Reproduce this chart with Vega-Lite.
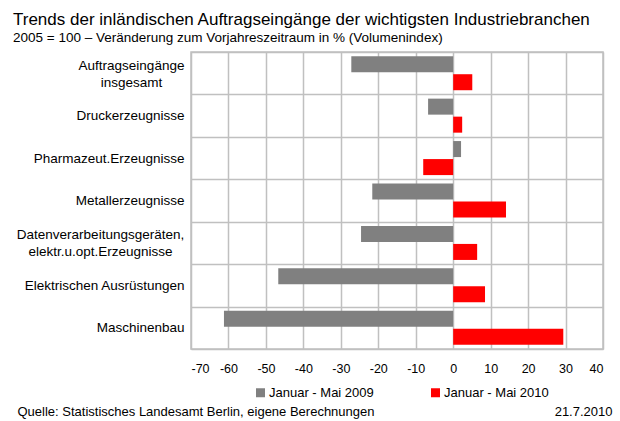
{
  "$schema": "https://vega.github.io/schema/vega-lite/v6.json",
  "width": 412,
  "height": 297,
  "autosize": {"type": "none"},
  "padding": {"left": 191, "top": 52, "right": 17, "bottom": 72},
  "background": "white",
  "config": {
    "font": "Liberation Sans",
    "view": {"stroke": "#c0c0c0", "strokeWidth": 1.5}
  },
  "title": {
    "text": "Trends der inländischen Auftragseingänge der wichtigsten Industriebranchen",
    "subtitle": "2005 = 100 – Veränderung zum Vorjahreszeitraum in % (Volumenindex)",
    "anchor": "start",
    "frame": "group",
    "dx": -178,
    "offset": 0,
    "fontSize": 17,
    "fontWeight": "normal",
    "color": "black",
    "subtitleFontSize": 13.5,
    "subtitleColor": "black",
    "subtitlePadding": 2
  },
  "data": {
    "values": [
      {"Branche": "Auftragseingänge|insgesamt", "Zeitraum": "Januar - Mai 2009", "Wert": -27.2},
      {"Branche": "Auftragseingänge|insgesamt", "Zeitraum": "Januar - Mai 2010", "Wert": 5.1},
      {"Branche": "Druckerzeugnisse", "Zeitraum": "Januar - Mai 2009", "Wert": -6.7},
      {"Branche": "Druckerzeugnisse", "Zeitraum": "Januar - Mai 2010", "Wert": 2.4},
      {"Branche": "Pharmazeut.Erzeugnisse", "Zeitraum": "Januar - Mai 2009", "Wert": 2.1},
      {"Branche": "Pharmazeut.Erzeugnisse", "Zeitraum": "Januar - Mai 2010", "Wert": -8.0},
      {"Branche": "Metallerzeugnisse", "Zeitraum": "Januar - Mai 2009", "Wert": -21.6},
      {"Branche": "Metallerzeugnisse", "Zeitraum": "Januar - Mai 2010", "Wert": 14.1},
      {"Branche": "Datenverarbeitungsgeräten,|elektr.u.opt.Erzeugnisse", "Zeitraum": "Januar - Mai 2009", "Wert": -24.6},
      {"Branche": "Datenverarbeitungsgeräten,|elektr.u.opt.Erzeugnisse", "Zeitraum": "Januar - Mai 2010", "Wert": 6.4},
      {"Branche": "Elektrischen Ausrüstungen", "Zeitraum": "Januar - Mai 2009", "Wert": -46.7},
      {"Branche": "Elektrischen Ausrüstungen", "Zeitraum": "Januar - Mai 2010", "Wert": 8.5},
      {"Branche": "Maschinenbau", "Zeitraum": "Januar - Mai 2009", "Wert": -61.2},
      {"Branche": "Maschinenbau", "Zeitraum": "Januar - Mai 2010", "Wert": 29.4}
    ]
  },
  "mark": {"type": "bar"},
  "encoding": {
    "y": {
      "field": "Branche",
      "type": "nominal",
      "sort": null,
      "scale": {"paddingInner": 0, "paddingOuter": 0},
      "axis": {
        "title": "21.7.2010",
        "titleAngle": 0,
        "titleX": 421,
        "titleY": 363,
        "titleAlign": "right",
        "titleBaseline": "alphabetic",
        "titleFontSize": 13,
        "titleFontWeight": "normal",
        "titleColor": "black",
        "labelExpr": "datum.value ? split(datum.value, '|') : ''",
        "labelOffset": {"condition": {"test": "isString(datum.value) && indexof(datum.value, '|') >= 0", "value": -8}, "value": 0},
        "labelAlign": {"condition": {"test": "isString(datum.value) && indexof(datum.value, '|') >= 0", "value": "center"}, "value": "right"},
        "labelPadding": {"condition": [
          {"test": "datum.value === 'Auftragseingänge|insgesamt'", "value": 60},
          {"test": "datum.value === 'Datenverarbeitungsgeräten,|elektr.u.opt.Erzeugnisse'", "value": 91}
        ], "value": 7},
        "labelFontSize": 13.5,
        "labelColor": "black",
        "labelLineHeight": 17,
        "labelLimit": 0,
        "ticks": false,
        "domain": false,
        "grid": true,
        "tickBand": "extent",
        "gridColor": "#c0c0c0",
        "gridWidth": 1.5
      }
    },
    "yOffset": {
      "field": "Zeitraum",
      "type": "nominal",
      "scale": {"paddingInner": 0.111, "paddingOuter": 0.233}
    },
    "x": {
      "field": "Wert",
      "type": "quantitative",
      "scale": {"domain": [-70, 40], "nice": false},
      "axis": {
        "values": [-70, -60, -50, -40, -30, -20, -10, 0, 10, 20, 30, 40],
        "labelExpr": "toString(datum.value)",
        "title": "Quelle: Statistisches Landesamt Berlin, eigene Berechnungen",
        "titleX": -174,
        "titleY": 66,
        "titleAlign": "left",
        "titleAnchor": "start",
        "titleBaseline": "alphabetic",
        "titleFontSize": 13,
        "titleFontWeight": "normal",
        "titleColor": "black",
        "labelFontSize": 12.5,
        "labelColor": "black",
        "labelPadding": 13,
        "ticks": false,
        "domain": false,
        "grid": true,
        "gridColor": "#c0c0c0",
        "gridWidth": 1.5
      }
    },
    "color": {
      "field": "Zeitraum",
      "type": "nominal",
      "scale": {"domain": ["Januar - Mai 2009", "Januar - Mai 2010"], "range": ["#808080", "#ff0000"]},
      "legend": {
        "title": null,
        "orient": "none",
        "direction": "horizontal",
        "legendX": 63,
        "legendY": 334,
        "symbolType": "square",
        "symbolSize": 81,
        "symbolStrokeWidth": 0,
        "labelFontSize": 13,
        "labelColor": "black",
        "labelOffset": 2,
        "columnPadding": 55,
        "labelLimit": 0
      }
    }
  }
}
